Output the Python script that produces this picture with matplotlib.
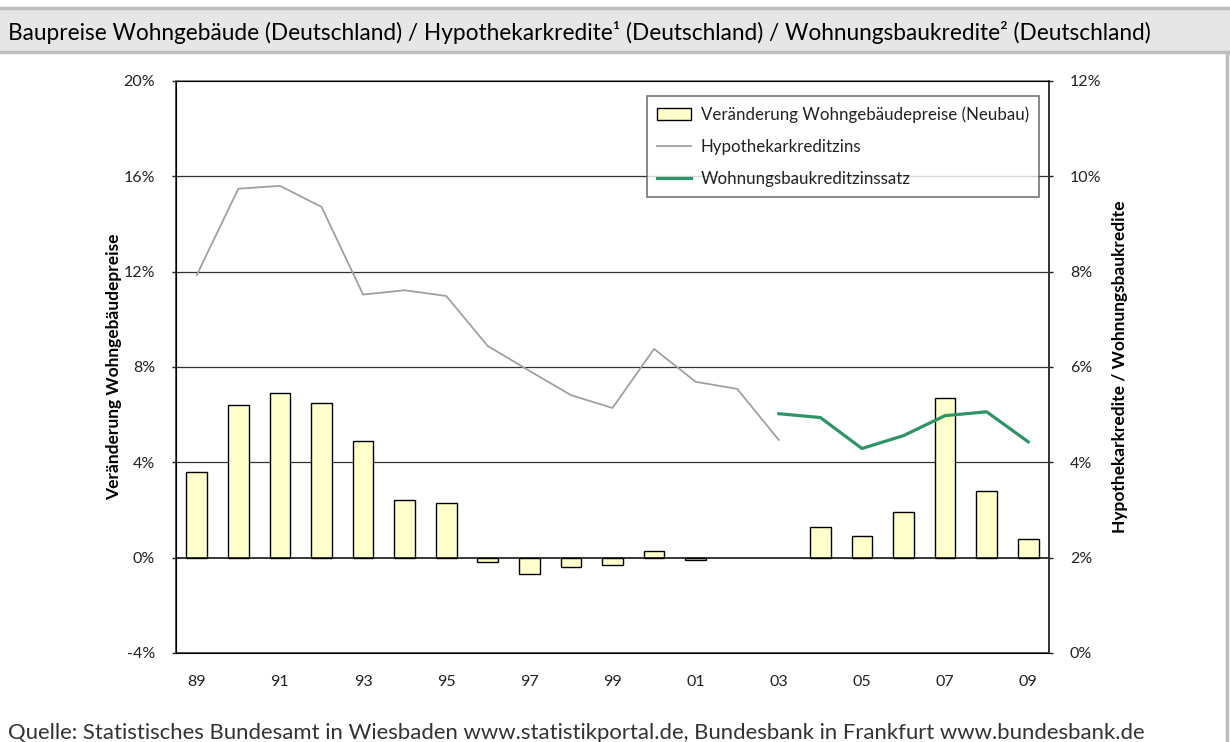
import numpy as np
import matplotlib.pyplot as plt
from matplotlib.patches import Rectangle
from matplotlib.lines import Line2D

plt.rcParams['font.family'] = ['Lato', 'DejaVu Sans']

years = np.arange(1989, 2010)
# Veränderung Wohngebäudepreise (Neubau), % gegenüber Vorjahr
preise = [3.6, 6.4, 6.9, 6.5, 4.9, 2.4, 2.3, -0.2, -0.7, -0.4, -0.3, 0.3, -0.1,
          np.nan, np.nan, 1.3, 0.9, 1.9, 6.7, 2.8, 0.8]
hypo_years = np.arange(1989, 2004)
hypo = [7.93, 9.74, 9.80, 9.36, 7.52, 7.61, 7.49, 6.44, 5.92, 5.41, 5.14, 6.38,
        5.69, 5.54, 4.47]
wbk_years = np.arange(2003, 2010)
wbk = [5.02, 4.94, 4.29, 4.56, 4.98, 5.06, 4.43]

left_ticks = [-4, 0, 4, 8, 12, 16, 20]
right_ticks = [0, 2, 4, 6, 8, 10, 12]
x_ticks = np.arange(1989, 2010, 2)

fig = plt.figure(figsize=(12.3, 7.42), dpi=100)

# header strip
fig.patches.append(Rectangle((0, 1 - 52 / 742), 1, 44 / 742, transform=fig.transFigure,
                             facecolor='#e6e6e6', edgecolor='none', zorder=0))
for yy in (1 - 8 / 742, 1 - 52 / 742):
    fig.add_artist(Line2D([0, 1], [yy, yy], color='#bdbdbd', lw=2.5, transform=fig.transFigure))
fig.add_artist(Line2D([1227 / 1230, 1227 / 1230], [0, 1 - 52 / 742], color='#bdbdbd', lw=2.5,
                      transform=fig.transFigure))
fig.text(8 / 1230, 1 - 33 / 742,
         'Baupreise Wohngebäude (Deutschland) / Hypothekarkredite¹ (Deutschland) / Wohnungsbaukredite² (Deutschland)',
         fontsize=16.3, va='center', ha='left', color='black')

ax = fig.add_axes([176 / 1230, 1 - 653 / 742, (1049 - 176) / 1230, (653 - 81) / 742])
ax.bar(years, preise, width=0.5, color='#ffffcc', edgecolor='black', linewidth=1, zorder=3,
       label='Veränderung Wohngebäudepreise (Neubau)')
ax.set_xlim(1988.5, 2009.5)
ax.set_ylim(-4, 20)
ax.set_yticks(left_ticks)
ax.set_yticklabels([f'{t}%' for t in left_ticks])
ax.set_xticks(x_ticks)
ax.set_xticklabels([f'{y % 100:02d}' for y in x_ticks])
for t in left_ticks[2:-1]:
    ax.axhline(t, color='#333333', lw=0.9, zorder=1)
ax.axhline(0, color='black', lw=1.1, zorder=4)
ax.tick_params(axis='x', length=0, pad=16, labelsize=11.5, colors='#222222')
ax.tick_params(axis='y', length=3, width=1, pad=12, labelsize=11.5, colors='#222222')
for side in ('left', 'right', 'bottom'):
    ax.spines[side].set_color('#333333')
    ax.spines[side].set_linewidth(1.2)
ax.spines['top'].set_color('#777777')
ax.spines['top'].set_linewidth(1.2)
ax.set_ylabel('Veränderung Wohngebäudepreise', fontsize=12.5, fontweight='bold', labelpad=1)

ax2 = ax.twinx()
ax2.plot(hypo_years, hypo, color='#a0a0a0', lw=1.3, label='Hypothekarkreditzins')
ax2.plot(wbk_years, wbk, color='#2e9466', lw=2.3, label='Wohnungsbaukreditzinssatz')
ax2.set_ylim(0, 12)
ax2.set_yticks(right_ticks)
ax2.set_yticklabels([f'{t}%' for t in right_ticks])
ax2.tick_params(axis='y', length=3, width=1, pad=12, labelsize=11.5, colors='#222222')
ax2.set_ylabel('Hypothekarkredite / Wohnungsbaukredite', fontsize=12.5, fontweight='bold',
               labelpad=8)
ax2.spines['right'].set_color('#333333')
ax2.spines['right'].set_linewidth(1.2)

h1, l1 = ax.get_legend_handles_labels()
h2, l2 = ax2.get_legend_handles_labels()
leg = ax2.legend(h1 + h2, l1 + l2, loc='upper right', bbox_to_anchor=(0.9885, 0.974),
                 fontsize=12.2, frameon=True, fancybox=False, handlelength=2.0,
                 borderpad=0.6, labelspacing=0.95, handletextpad=0.55, borderaxespad=0)
leg.get_frame().set_edgecolor('#444444')
leg.get_frame().set_linewidth(1.1)
for t in leg.get_texts():
    t.set_color('#222222')

fig.text(8 / 1230, 1 - 733 / 742,
         'Quelle: Statistisches Bundesamt in Wiesbaden www.statistikportal.de, Bundesbank in Frankfurt www.bundesbank.de',
         fontsize=15.9, va='center', ha='left', color='#333333')

fig.savefig('out.png', dpi=100)
